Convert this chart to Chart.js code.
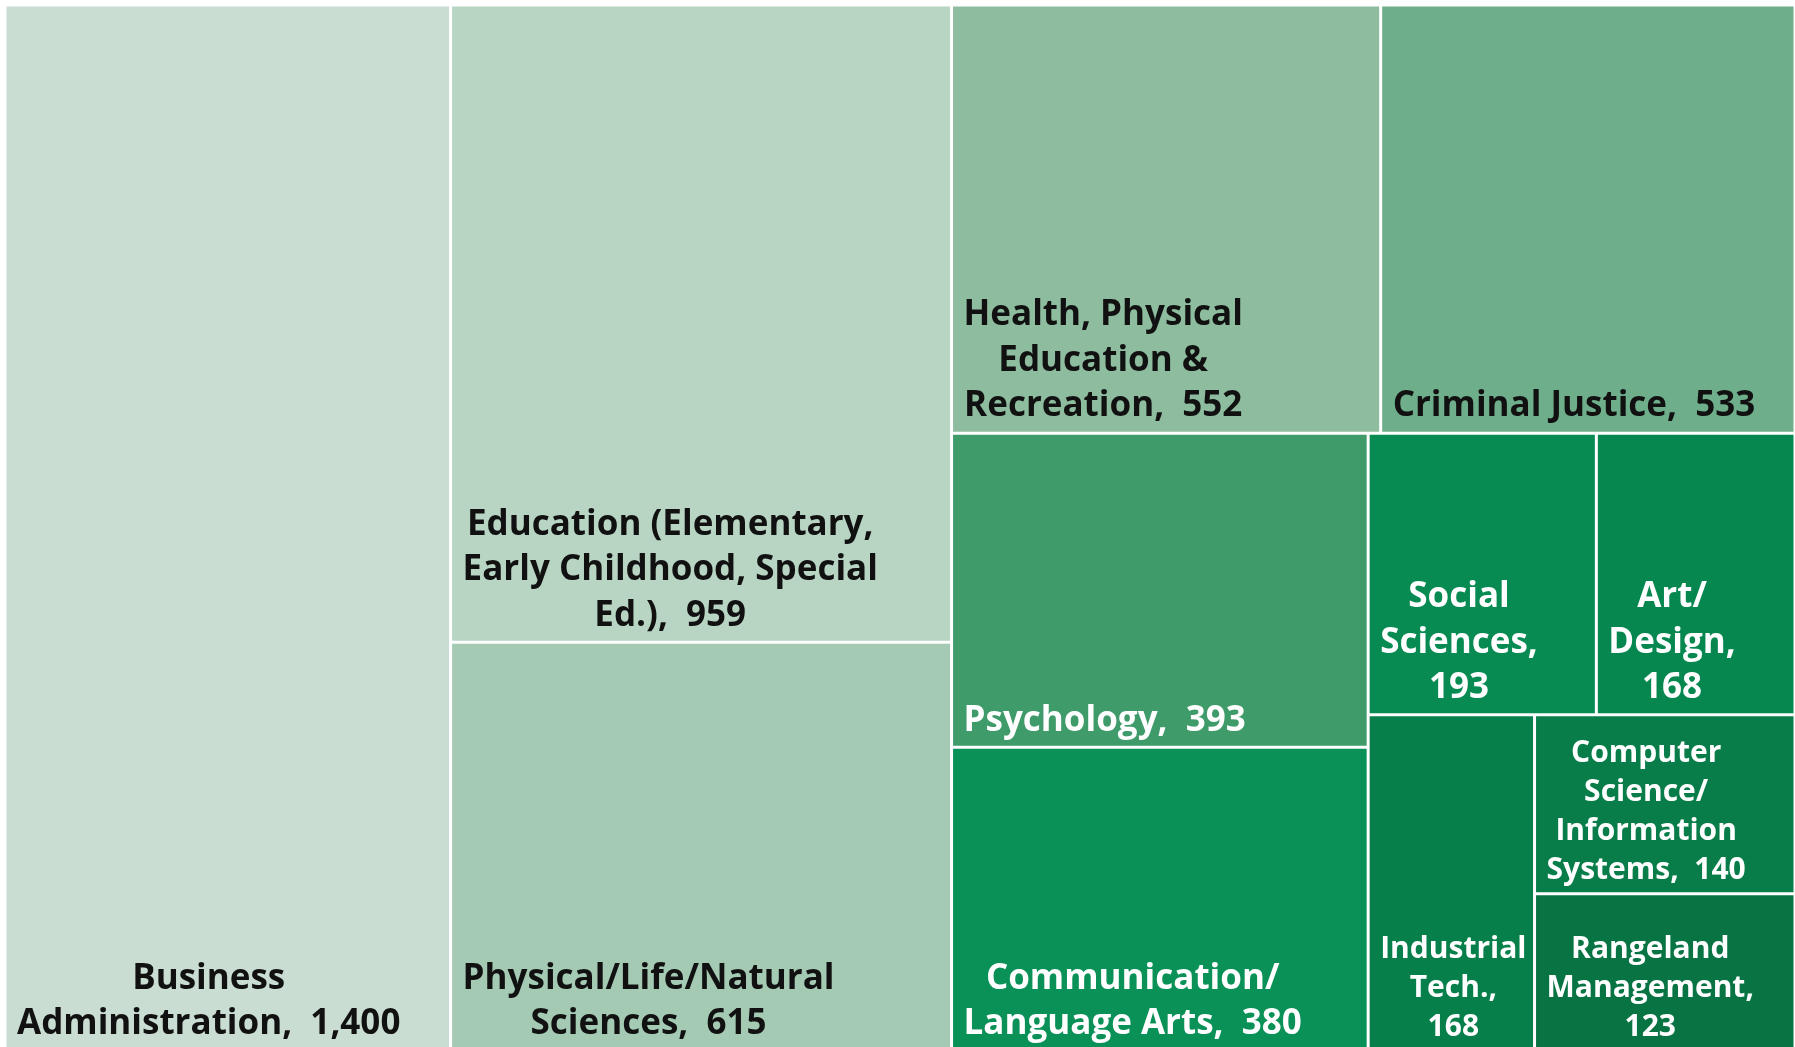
<!DOCTYPE html>
<html>
<head>
<meta charset="utf-8">
<title>Degrees by field</title>
<script src="https://cdn.jsdelivr.net/npm/chart.js@4.4.1/dist/chart.umd.min.js"></script>
<style>
 html, body { margin: 0; padding: 0; background: #ffffff; overflow: hidden; }
 /* a little taller than the window: the source picture cuts off the bottom border */
 #chart-wrap { width: 1795px; height: 1051px; }
</style>
</head>
<body>
<div id="chart-wrap"><canvas id="fields-canvas"></canvas></div>
<script>
// ---- data ----
var categories = [
 "Business Administration",
 "Education (Elementary, Early Childhood, Special Ed.)",
 "Physical/Life/Natural Sciences",
 "Health, Physical Education & Recreation",
 "Criminal Justice",
 "Psychology",
 "Communication/Language Arts",
 "Social Sciences",
 "Art/Design",
 "Industrial Tech.",
 "Computer Science/Information Systems",
 "Rangeland Management",
];
var counts = [1400, 959, 615, 552, 533, 393, 380, 193, 168, 168, 140, 123];

// which cells share a strip, in the order Excel cut them off the remaining space
var strips = [[0], [1, 2], [3, 4], [5, 6], [7, 8], [9], [10, 11]];
var stripDirs = ["col", "col", "row", "col", "row", "col", "col"];

var cellColors = [
 "#c9ddd2", // Business
 "#b8d5c4", // Education
 "#a4cab4", // Physical
 "#8ebc9f", // Health
 "#6eae8a", // Criminal
 "#3f9b6a", // Psychology
 "#099157", // Communication
 "#078b53", // Social
 "#068750", // Art
 "#077f4a", // Industrial
 "#087d49", // Computer
 "#097443", // Rangeland
];
var labelColors = [
 "#111111", "#111111", "#111111", "#111111", "#111111",
 "#ffffff", "#ffffff", "#ffffff", "#ffffff", "#ffffff", "#ffffff", "#ffffff",
];

var LABEL_FONT = "'Open Sans'";
var BASE_SIZE = 35;
var LINE_RATIO = 1.3;
var PAD_X = 12; // left inset of the text block
var PAD_R = 6; // room kept free on the right when wrapping
var PAD_TOP = 18;
var PAD_BOTTOM = 4;
var NO_SKIP = { top: false, right: false, bottom: false, left: false };

function sumOf(list) {
 return list.reduce(function (a, b) {
  return a + b;
 }, 0);
}

// slice the unit square into strips, each strip gets its share of what is left
function layoutCells(values) {
 var cells = [];
 var x0 = 0, y0 = 0, x1 = 1, y1 = 1;
 var remaining = sumOf(values);
 strips.forEach(function (group, s) {
  var groupTotal = sumOf(group.map(function (idx) { return values[idx]; }));
  var share = groupTotal / remaining;
  if (stripDirs[s] === "col") {
   var xEnd = x0 + (x1 - x0) * share;
   var yy = y0;
   group.forEach(function (idx) {
    var h = (y1 - y0) * values[idx] / groupTotal;
    cells[idx] = { x0: x0, x1: xEnd, y0: yy, y1: yy + h };
    yy += h;
   });
   x0 = xEnd;
  } else {
   var yEnd = y0 + (y1 - y0) * share;
   var xx = x0;
   group.forEach(function (idx) {
    var w = (x1 - x0) * values[idx] / groupTotal;
    cells[idx] = { x0: xx, x1: xx + w, y0: y0, y1: yEnd };
    xx += w;
   });
   y0 = yEnd;
  }
  remaining -= groupTotal;
 });
 return cells;
}

function labelTokens(i) {
 var tokens = [];
 categories[i].split(" ").forEach(function (word, w) {
  var parts = word.split("/");
  parts.forEach(function (part, p) {
   if (part === "") return;
   var text = p < parts.length - 1 ? part + "/" : part;
   var sep = p > 0 ? "" : (w === 0 ? "" : " ");
   tokens.push({ text: text, sep: sep });
  });
 });
 tokens[tokens.length - 1].text += ",";
 tokens.push({ text: counts[i].toLocaleString("en-US"), sep: "  " });
 return tokens;
}

function wrapTokens(ctx, tokens, maxW) {
 var lines = [];
 var cur = "";
 tokens.forEach(function (t) {
  var trial = cur ? cur + t.sep + t.text : t.text;
  if (cur && ctx.measureText(trial).width > maxW) {
   lines.push(cur);
   cur = t.text;
  } else {
   cur = trial;
  }
 });
 if (cur) lines.push(cur);
 return lines;
}

function fitLabel(ctx, tokens, w, h, startSize) {
 var maxW = w - PAD_X - PAD_R;
 for (var size = startSize; size >= 10; size--) {
  ctx.font = "bold " + size + "px " + LABEL_FONT;
  var lines = wrapTokens(ctx, tokens, maxW);
  var widest = Math.max.apply(null, lines.map(function (l) { return ctx.measureText(l).width; }));
  if (widest <= maxW && lines.length * size * LINE_RATIO <= h - PAD_TOP - PAD_BOTTOM) {
   return size;
  }
 }
 return 10;
}

class TreemapController extends Chart.DatasetController {
 update(mode) {
  var meta = this._cachedMeta;
  this.updateElements(meta.data, 0, meta.data.length, mode);
 }

 updateElements(rects, start, count, mode) {
  var xScale = this._cachedMeta.xScale;
  var yScale = this._cachedMeta.yScale;
  var cells = layoutCells(this.getDataset().data);
  for (var i = start; i < start + count; i++) {
   var c = cells[i];
   var left = xScale.getPixelForValue(c.x0);
   var right = xScale.getPixelForValue(c.x1);
   var top = yScale.getPixelForValue(c.y0);
   var bottom = yScale.getPixelForValue(c.y1);
   this.updateElement(rects[i], i, {
    x: (left + right) / 2,
    y: top,
    base: bottom,
    width: right - left,
    height: bottom - top,
    horizontal: false,
    borderSkipped: NO_SKIP,
    enableBorderRadius: false,
    inflateAmount: 0,
    options: this.resolveDataElementOptions(i, mode),
   }, mode);
  }
 }

 draw() {
  super.draw();
  var ctx = this.chart.ctx;
  var rects = this._cachedMeta.data;

  // first pass: the size each label needs, small cells share one size
  var sizes = rects.map(function (r, i) {
   return fitLabel(ctx, labelTokens(i), r.width, r.base - r.y, BASE_SIZE);
  });
  var shrunk = sizes.filter(function (s) { return s < BASE_SIZE; });
  var smallSize = shrunk.length ? Math.min.apply(null, shrunk) : BASE_SIZE;

  ctx.save();
  ctx.textAlign = "center";
  ctx.textBaseline = "middle";
  rects.forEach(function (r, i) {
   var size = sizes[i] < BASE_SIZE ? smallSize : BASE_SIZE;
   ctx.font = "bold " + size + "px " + LABEL_FONT;
   var lines = wrapTokens(ctx, labelTokens(i), r.width - PAD_X - PAD_R);
   var widest = Math.max.apply(null, lines.map(function (l) { return ctx.measureText(l).width; }));
   var lh = size * LINE_RATIO;
   var cx = r.x - r.width / 2 + PAD_X + widest / 2;
   ctx.fillStyle = labelColors[i];
   lines.forEach(function (line, k) {
    var cy = r.base - PAD_BOTTOM - lh / 2 - (lines.length - 1 - k) * lh;
    ctx.fillText(line, cx, cy);
   });
  });
  ctx.restore();
 }
}
TreemapController.id = "treemap";
TreemapController.defaults = { dataElementType: "bar" };
Chart.register(TreemapController);

var ctx = document.getElementById("fields-canvas");
new Chart(ctx, {
 type: "treemap",
 data: {
  labels: categories,
  datasets: [
   {
    label: "Degrees",
    data: counts,
    backgroundColor: cellColors,
    borderColor: "#ffffff",
    borderWidth: 1.5,
   },
  ],
 },
 options: {
  responsive: true,
  maintainAspectRatio: false,
  animation: false,
  events: [],
  layout: { padding: { left: 5, top: 5, right: 0, bottom: 0 } },
  scales: {
   x: { type: "linear", min: 0, max: 1, display: false },
   y: { type: "linear", min: 0, max: 1, reverse: true, display: false },
  },
  plugins: {
   legend: { display: false },
   tooltip: { enabled: false },
  },
 },
});
</script>
</body>
</html>
